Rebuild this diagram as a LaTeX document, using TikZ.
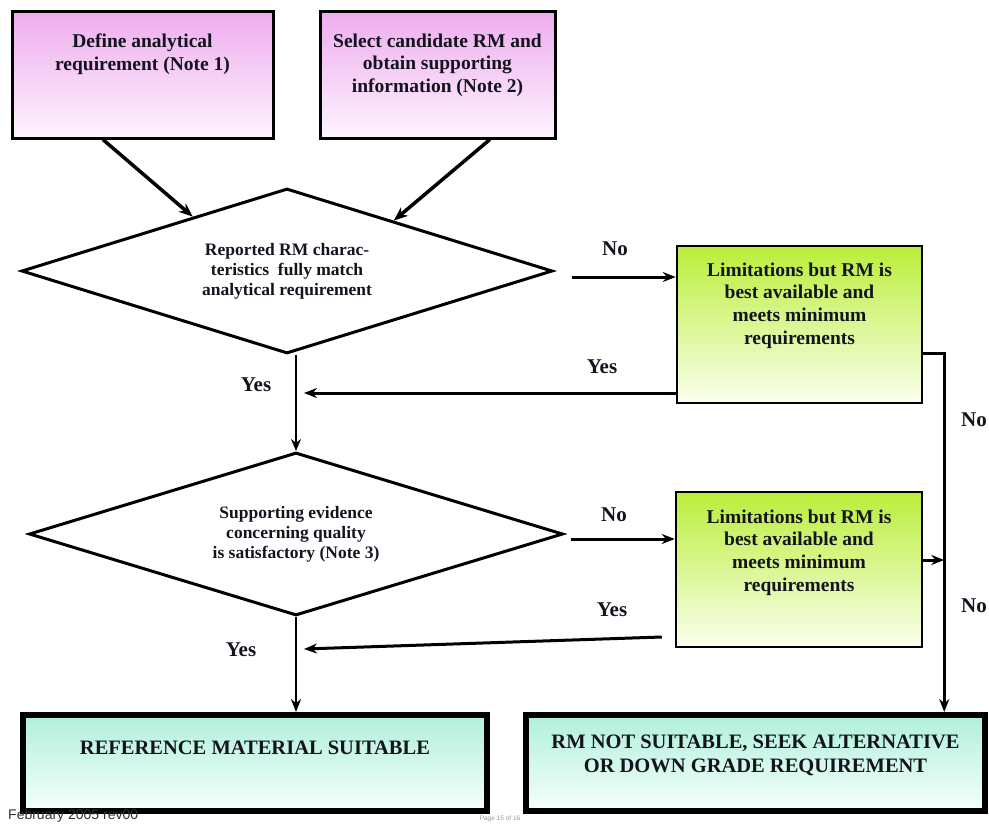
\documentclass[tikz,border=0pt]{standalone}
\usepackage{fontspec}
\setmainfont{Liberation Serif}
\newfontfamily\footfont{Liberation Sans}
\usetikzlibrary{shapes.geometric,arrows.meta,calc}
\definecolor{pinkT}{RGB}{238,172,238}
\definecolor{pinkB}{RGB}{253,244,253}
\definecolor{greenT}{RGB}{186,238,58}
\definecolor{greenB}{RGB}{251,255,238}
\definecolor{aquaT}{RGB}{176,240,218}
\definecolor{aquaB}{RGB}{246,255,252}
\definecolor{txt}{RGB}{20,20,30}
\newcommand\bxt[4]{\parbox[c][#1][t]{#2}{\centering\vspace*{#3}#4\par}}
\begin{document}
\begin{tikzpicture}[x=1pt,y=-1pt,
  topbox/.style={draw, line width=3pt, shading=axis, top color=pinkT, bottom color=pinkB, inner sep=0pt, text=txt,
     font=\bfseries\fontsize{19.5}{22.7}\selectfont},
  greenbox/.style={draw, line width=2.5pt, shading=axis, top color=greenT, bottom color=greenB, inner sep=0pt, text=txt,
     font=\bfseries\fontsize{19.5}{22.7}\selectfont},
  endbox/.style={draw, line width=6pt, shading=axis, top color=aquaT, bottom color=aquaB, inner sep=0pt, text=txt,
     font=\bfseries\fontsize{20.5}{24}\selectfont},
  decision/.style={draw, diamond, line width=3pt, aspect=3.2, inner sep=0pt, align=center, text=txt,
     font=\bfseries\fontsize{17.5}{20}\selectfont},
  lbl/.style={font=\bfseries\fontsize{21}{24}\selectfont, text=txt, inner sep=0pt},
  arr/.style={line width=3pt, -{Stealth[length=13pt,width=10pt]}},
  thinarr/.style={line width=2pt, -{Stealth[length=12pt,width=10pt]}},
  conn/.style={line width=3pt}
]
\useasboundingbox (0,0) rectangle (989,823);

% top boxes
\node[topbox] (b1) at (142.5,74.5) {\bxt{127pt}{261pt}{22.7pt}{Define analytical\\requirement (Note 1)}};
\node[topbox] (b2) at (437.5,74.5) {\bxt{127pt}{235pt}{22.7pt}{Select candidate RM and\\obtain supporting\\information (Note 2)}};

% decisions
\node[decision, minimum width=531pt, minimum height=165pt] (d1) at (287,271)
  {Reported RM charac-\\teristics \ fully match\\analytical requirement};
\node[decision, minimum width=534pt, minimum height=163pt] (d2) at (296,534)
  {Supporting evidence\\concerning quality\\is satisfactory (Note 3)};

% green boxes
\node[greenbox] (g1) at (799.5,324.5) {\bxt{157pt}{245pt}{16.7pt}{Limitations but RM is\\best available and\\meets minimum\\requirements}};
\node[greenbox] (g2) at (799,569.5) {\bxt{155pt}{246pt}{17.7pt}{Limitations but RM is\\best available and\\meets minimum\\requirements}};

% end boxes
\node[endbox] (e1) at (255,763) {\bxt{96pt}{464pt}{26.4pt}{REFERENCE MATERIAL SUITABLE}};
\node[endbox] (e2) at (755.5,763) {\bxt{96pt}{459pt}{20.4pt}{RM NOT SUITABLE, SEEK ALTERNATIVE\\OR DOWN GRADE REQUIREMENT}};

% arrows from top boxes
\draw[line width=3.5pt, -{Stealth[length=14pt,width=11pt]}] ($(b1.south west)!0.35!(b1.south east)$) -- ($(d1.north)!0.353!(d1.west)$);
\draw[line width=3.5pt, -{Stealth[length=14pt,width=11pt]}] ($(b2.south west)!0.72!(b2.south east)$) -- ($(d1.north)!0.40!(d1.east)$);

% decision 1 -> No
\coordinate (n1s) at ([xshift=17.5pt,yshift=-6pt]d1.east);
\draw[arr] (n1s) -- (n1s -| g1.west);
\node[lbl] (no1) at (615,249) {No};

% green 1 -> Yes back
\coordinate (y1s) at ([yshift=-68.5pt]g1.west);
\coordinate (y1t) at (y1s -| d2.north);
\draw[arr] (y1s) -- ([xshift=8pt]y1t);
\node[lbl] (yes1) at (602,367) {Yes};
\node[lbl] (yes1b) at (256,385) {Yes};

% decision 1 -> decision 2
\draw[thinarr] (d2.north |- d1.south) -- (d2.north);

% green 1 -> No -> end box 2
\coordinate (r1) at ([yshift=-28.5pt]g1.east);
\coordinate (r2) at ([xshift=21pt]r1);
\draw[arr] (r1) -- (r2) -- (r2 |- e2.north);
\node[lbl] (no3) at (974,420) {No};

% decision 2 -> No
\coordinate (n2s) at ([xshift=6pt,yshift=-5pt]d2.east);
\draw[arr] (n2s) -- (n2s -| g2.west);
\node[lbl] (no2) at (614,515) {No};

% green 2 -> right line
\coordinate (s2) at ([yshift=9.5pt]g2.east);
\draw[arr] (s2) -- (s2 -| r2);
\node[lbl] (no4) at (974,606) {No};

% green 2 -> Yes back
\coordinate (y2s) at ([xshift=-13pt,yshift=-67.5pt]g2.west);
\coordinate (y2e) at ([xshift=8pt,yshift=-32pt]d2.south);
\draw[arr] (y2s) -- (y2e);
\node[lbl] (yes2) at (612,610) {Yes};
\node[lbl] (yes2b) at (241,650) {Yes};

% decision 2 -> end box 1
\draw[line width=2.5pt, -{Stealth[length=13pt,width=10pt]}] (d2.south) -- (d2.south |- e1.north);

% footer
\node[anchor=base west, inner sep=0pt, font=\footfont\fontsize{14}{16}\selectfont, text={rgb,255:red,50;green,50;blue,50}] (foot1) at (8,819.5) {February 2005 rev00};
\node[anchor=base, inner sep=0pt, font=\footfont\fontsize{6.5}{8}\selectfont, text={rgb,255:red,150;green,150;blue,150}] (foot2) at (500,820) {Page 15 of 16};
\end{tikzpicture}
\end{document}
